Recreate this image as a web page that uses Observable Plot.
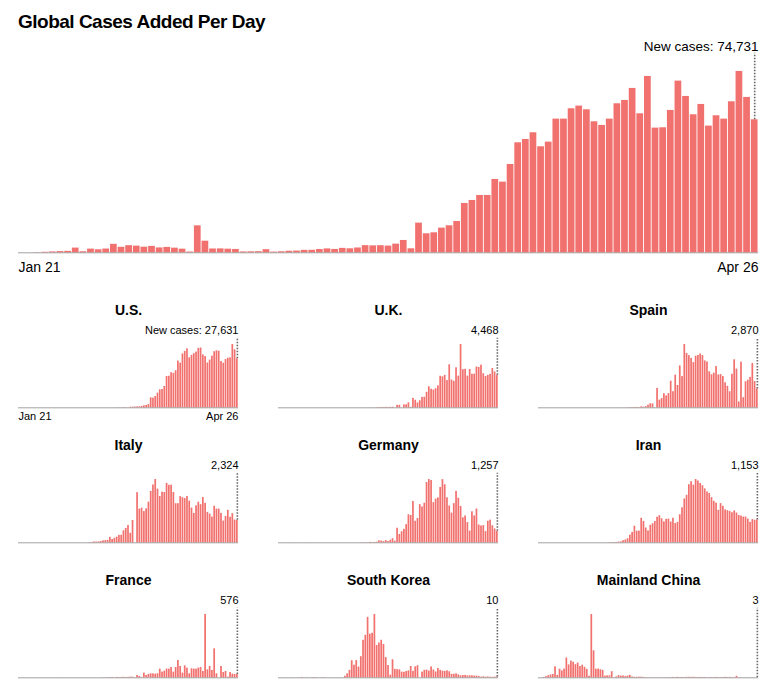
<!DOCTYPE html>
<html>
<head>
<meta charset="utf-8">
<script src="https://cdn.jsdelivr.net/npm/d3@7"></script>
<script src="https://cdn.jsdelivr.net/npm/@observablehq/plot@0.6"></script>
<style>
  body { margin: 0; background: #fff; }
  #wrap { position: relative; width: 778px; height: 690px; overflow: hidden;
          font-family: "Liberation Sans", Arial, Helvetica, sans-serif; color: #000; }
  #title { position: absolute; left: 18px; top: 11.6px; font-size: 19px; line-height: 19px;
           font-weight: bold; letter-spacing: -0.5px; white-space: nowrap; }
  .chart { position: absolute; }
</style>
</head>
<body>
<div id="wrap"><div id="title">Global Cases Added Per Day</div></div>
<script>
// ---- Data (daily new cases, Jan 21 – Apr 26, 2020) ----
const startDay = "2020-01-21";
const endDay = "2020-04-26";

const globalCases = [
  0, 0, 99, 287, 493, 684, 809, 2651, 588, 2068,
  1693, 2111, 4749, 3094, 4011, 3743, 3159, 3597, 2729, 3030,
  2612, 2040, 419, 15158, 6517, 2145, 2194, 2034, 1880, 503,
  558, 621, 1749, 394, 582, 873, 970, 1373, 1410, 1827,
  2194, 1885, 2481, 2241, 2713, 4023, 3897, 3996, 3770, 4870,
  6930, 2250, 16670, 10680, 11240, 13860, 15170, 17600, 27720, 29400,
  32220, 32220, 41200, 39700, 49630, 61800, 63680, 67430, 59560, 62180,
  75100, 75100, 80910, 82410, 80350, 73600, 71550, 75100, 83720, 85600,
  92340, 78100, 99080, 70050, 70240, 79980, 96460, 87840, 77540, 83350,
  71170, 76980, 75100, 84850, 101890, 87280, 74731
];
const usCases = [
  0, 1, 0, 1, 0, 3, 0, 0, 0, 1,
  1, 1, 1, 0, 0, 1, 0, 0, 0, 0,
  1, 0, 1, 0, 0, 0, 0, 0, 0, 0,
  0, 2, 0, 0, 0, 0, 0, 0, 2, 8,
  8, 23, 20, 31, 68, 45, 140, 116, 65, 300,
  380, 450, 520, 550, 770, 1130, 1300, 1800, 5640, 5450,
  6390, 8270, 10150, 10300, 12040, 17670, 17820, 19820, 19410, 20920,
  26370, 25200, 30390, 31820, 33270, 28220, 29600, 30560, 31480, 33540,
  33750, 29860, 28920, 25310, 26950, 29160, 31670, 32170, 31960, 26130,
  25190, 27260, 28010, 28200, 35720, 32710, 27631
];
const ukCases = [
  0, 0, 0, 0, 0, 0, 0, 0, 0, 0,
  2, 0, 0, 0, 0, 0, 0, 0, 0, 1,
  4, 0, 0, 0, 0, 0, 0, 0, 0, 0,
  0, 0, 0, 0, 0, 4, 0, 2, 5, 3,
  13, 4, 11, 34, 30, 48, 43, 67, 48, 61,
  77, 0, 342, 339, 0, 403, 407, 676, 63, 1294,
  1035, 665, 967, 1427, 1452, 2129, 2885, 2546, 2433, 2619,
  3009, 4324, 4244, 4450, 3735, 5903, 3802, 3634, 5491, 4344,
  8681, 5233, 5288, 4342, 5252, 4603, 4617, 5599, 5525, 5850,
  4676, 4301, 4451, 4583, 5386, 4913, 4468
];
const spainCases = [
  0, 0, 0, 0, 0, 0, 0, 0, 0, 0,
  0, 1, 0, 0, 0, 0, 0, 0, 0, 1,
  0, 0, 0, 0, 0, 0, 0, 0, 0, 0,
  0, 0, 0, 0, 0, 4, 4, 5, 12, 13,
  39, 36, 45, 57, 37, 141, 100, 173, 400, 622,
  582, 0, 2955, 1159, 1407, 2144, 1806, 2162, 4053, 2447,
  4964, 3394, 6368, 4749, 9630, 8271, 7933, 7516, 6875, 7846,
  7967, 8195, 7947, 7134, 6969, 5478, 5029, 5267, 6278, 5002,
  5051, 4754, 3804, 3268, 2442, 5103, 7304, 5891, 887, 6948,
  1536, 3968, 4211, 4635, 6740, 3995, 2870
];
const italyCases = [
  0, 0, 0, 0, 0, 0, 0, 0, 0, 0,
  2, 0, 0, 0, 0, 0, 0, 1, 0, 0,
  0, 0, 0, 0, 0, 0, 0, 0, 0, 0,
  0, 17, 42, 93, 74, 93, 131, 202, 233, 240,
  566, 342, 466, 587, 769, 778, 1247, 1492, 1797, 977,
  2313, 0, 5198, 3497, 3590, 3233, 3526, 4207, 5322, 5986,
  6557, 5560, 4789, 5249, 5210, 6153, 5959, 5974, 5217, 4050,
  4053, 4782, 4668, 4585, 4805, 4316, 3599, 3039, 3836, 4204,
  3951, 4694, 4092, 3153, 2972, 2667, 3786, 3493, 3491, 3047,
  2256, 2729, 3370, 2646, 3021, 2357, 2324
];
const germanyCases = [
  0, 0, 0, 0, 0, 0, 1, 3, 0, 0,
  1, 3, 2, 0, 2, 1, 1, 0, 0, 0,
  2, 0, 0, 0, 0, 0, 0, 0, 0, 0,
  0, 0, 0, 0, 0, 1, 10, 9, 26, 13,
  51, 29, 37, 66, 220, 188, 129, 241, 136, 281,
  451, 170, 1597, 910, 1210, 1477, 1985, 3070, 2993, 4528,
  2365, 2660, 4183, 3930, 4337, 6615, 6933, 6824, 4400, 4790,
  4923, 6064, 6922, 6365, 4933, 4031, 3251, 4289, 5633, 4885,
  3990, 2737, 2946, 2218, 1287, 3394, 2945, 3699, 1945, 1842,
  1881, 1226, 2357, 2481, 1870, 1514, 1257
];
const iranCases = [
  0, 0, 0, 0, 0, 0, 0, 0, 0, 0,
  0, 0, 0, 0, 0, 0, 0, 0, 0, 0,
  0, 0, 0, 0, 0, 0, 0, 0, 0, 2,
  3, 13, 10, 15, 18, 34, 44, 106, 143, 205,
  385, 523, 835, 586, 591, 1234, 1076, 743, 595, 881,
  958, 1075, 1289, 1365, 1209, 1053, 1178, 1192, 1046, 1237,
  966, 1028, 1411, 1762, 2206, 2389, 2926, 3076, 2901, 3186,
  3110, 2987, 2875, 2715, 2560, 2483, 2274, 2089, 1997, 1634,
  1972, 1837, 1657, 1617, 1574, 1512, 1606, 1499, 1374, 1343,
  1294, 1297, 1194, 1030, 1168, 1134, 1153
];
const franceCases = [
  0, 0, 0, 3, 0, 0, 1, 0, 0, 1,
  0, 0, 0, 0, 0, 0, 0, 5, 0, 0,
  0, 0, 0, 0, 0, 0, 0, 0, 0, 0,
  0, 0, 0, 0, 0, 2, 4, 20, 19, 43,
  30, 60, 20, 70, 50, 60, 90, 50, 80, 115,
  115, 20, 400, 230, 60, 810, 400, 580, 690, 690,
  630, 690, 1500, 980, 1150, 1500, 1500, 1790, 980, 1790,
  3000, 1960, 810, 2070, 1670, 690, 1560, 1500, 1500, 1670,
  1790, 1090, 10940, 1380, 1960, 1270, 5010, 690, 0, 1960,
  920, 1090, 115, 920, 630, 580, 576
];
const southKoreaCases = [
  0, 0, 0, 1, 0, 1, 1, 0, 0, 2,
  5, 1, 3, 0, 1, 3, 4, 0, 0, 3,
  2, 0, 0, 0, 0, 0, 1, 0, 1, 20,
  53, 100, 229, 169, 231, 144, 284, 505, 571, 813,
  586, 599, 851, 435, 467, 505, 448, 272, 165, 35,
  242, 114, 110, 107, 76, 74, 84, 93, 152, 87,
  147, 162, 0, 76, 100, 104, 91, 146, 105, 78,
  125, 101, 89, 86, 94, 81, 47, 47, 53, 39,
  27, 30, 32, 25, 27, 27, 22, 22, 18, 8,
  13, 9, 11, 8, 6, 10, 10
];
const chinaCases = [
  0, 0, 95, 277, 486, 669, 802, 2632, 578, 2054,
  1661, 2089, 4739, 3086, 3991, 3733, 3147, 3523, 2704, 3015,
  2525, 2032, 373, 15136, 6463, 2055, 2100, 1921, 1777, 408,
  458, 473, 1451, 21, 219, 513, 412, 434, 328, 428,
  576, 204, 125, 125, 151, 153, 80, 53, 37, 27,
  34, 11, 13, 32, 26, 30, 25, 44, 54, 94,
  55, 130, 63, 93, 70, 121, 115, 102, 123, 76,
  81, 82, 71, 79, 32, 59, 63, 53, 91, 74,
  58, 73, 120, 79, 93, 50, 47, 357, 27, 18,
  12, 36, 15, 16, 15, 10, 3
];

const panelNames = ["U.S.", "U.K.", "Spain", "Italy", "Germany", "Iran", "France", "South Korea", "Mainland China"];
const panelSeries = [usCases, ukCases, spainCases, italyCases, germanyCases, iranCases, franceCases, southKoreaCases, chinaCases];

// ---- Rendering ----
const FONT = '"Liberation Sans", Arial, Helvetica, sans-serif';
const BAR = "#f1716e";
const days = d3.utcDay.range(new Date(startDay), d3.utcDay.offset(new Date(endDay), 1));
const endEdge = d3.utcDay.offset(days[days.length - 1], 1);
const fmtDay = d3.utcFormat("%b %-d");
const fmtNum = d3.format(",");

function chart(values, o) {
  const rows = values.map((v, i) => ({date: days[i], value: v}));
  const last = rows[rows.length - 1];
  const yTop = d3.max(values) * 1.1;
  const marks = [
    Plot.rectY(rows, {x: "date", y: "value", interval: "day", fill: BAR,
                      insetLeft: o.inset, insetRight: o.inset}),
    Plot.ruleY([0], {stroke: "#555", strokeOpacity: 0.55, strokeWidth: 1}),
    Plot.ruleX([last], {x: d => d3.utcHour.offset(d.date, 12), y1: "value", y2: () => yTop,
                        stroke: "#666", strokeWidth: 1.6, strokeDasharray: "1.5,1.5"}),
    Plot.text([last], {x: () => endEdge, frameAnchor: "top", textAnchor: "end", lineAnchor: "bottom",
                       dy: o.labelDy, fontSize: o.labelSize, fill: "#000",
                       text: d => (o.prefix || "") + fmtNum(d.value)})
  ];
  if (o.title) {
    marks.push(Plot.text([o.title], {frameAnchor: "top", lineAnchor: "bottom", dy: o.titleDy,
                                     fontSize: 14, fontWeight: "bold", fill: "#000", text: d => d}));
  }
  if (o.axis) {
    marks.push(Plot.axisX([days[0]], {tickFormat: fmtDay, textAnchor: "start", tickSize: 0,
                                      tickPadding: o.axisPadding, fontSize: o.axisSize, label: null}));
    marks.push(Plot.axisX([endEdge], {tickFormat: d => fmtDay(d3.utcDay.offset(d, -1)), textAnchor: "end",
                                      tickSize: 0, tickPadding: o.axisPadding, fontSize: o.axisSize, label: null}));
  }
  const svg = Plot.plot({
    width: o.width, height: o.height,
    marginTop: o.marginTop, marginBottom: o.marginBottom,
    marginLeft: o.marginLeft, marginRight: o.marginRight,
    x: {type: "utc", domain: [days[0], endEdge], label: null, axis: o.axis ? undefined : null},
    y: {domain: [0, yTop], axis: null},
    style: {fontFamily: FONT, fontSize: "11px", color: "#000", background: "transparent", overflow: "visible"},
    marks
  });
  svg.classList.add("chart");
  svg.style.left = o.left + "px";
  svg.style.top = o.top + "px";
  document.getElementById("wrap").appendChild(svg);
}

// Main chart
chart(globalCases, {
  left: 0, top: 32, width: 778, height: 250,
  marginTop: 20.8, marginBottom: 29.7, marginLeft: 18, marginRight: 20,
  inset: 0.45, prefix: "New cases: ", labelSize: 13.5, labelDy: -2.8,
  axis: true, axisSize: 14, axisPadding: 9
});

// Small multiples
panelSeries.forEach((values, k) => {
  const r = Math.floor(k / 3), c = k % 3;
  const h = r === 0 ? 135 : 130;
  chart(values, {
    left: 260 * c, top: 290 + 135 * r, width: 258, height: h,
    marginTop: 47.7, marginBottom: h - 47.7 - 69.6, marginLeft: 18, marginRight: 20,
    inset: 0.28, prefix: k === 0 ? "New cases: " : "", labelSize: 11, labelDy: -4,
    title: panelNames[k], titleDy: -23.7,
    axis: k === 0, axisSize: 11, axisPadding: 4.5
  });
});
</script>
</body>
</html>
